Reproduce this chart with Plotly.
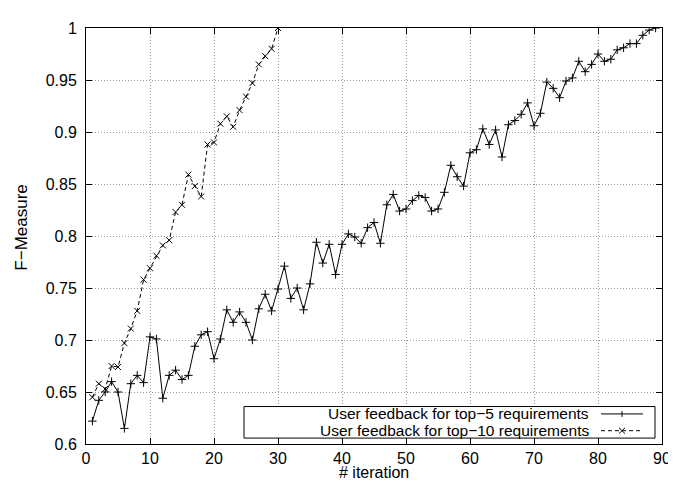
import plotly.graph_objects as go

# ---- data ----
iter_top5 = list(range(1, 90))
fm_top5 = [0.622, 0.642, 0.650, 0.660, 0.650, 0.615, 0.658, 0.666, 0.659, 0.703,
           0.701, 0.644, 0.666, 0.671, 0.662, 0.666, 0.694, 0.705, 0.708, 0.682,
           0.701, 0.729, 0.717, 0.727, 0.717, 0.700, 0.730, 0.744, 0.728, 0.749,
           0.771, 0.740, 0.750, 0.729, 0.754, 0.794, 0.774, 0.792, 0.763, 0.792,
           0.802, 0.799, 0.793, 0.808, 0.813, 0.793, 0.830, 0.840, 0.824, 0.826,
           0.834, 0.839, 0.837, 0.824, 0.826, 0.842, 0.868, 0.857, 0.848, 0.880,
           0.883, 0.903, 0.888, 0.902, 0.876, 0.907, 0.911, 0.917, 0.928, 0.906,
           0.918, 0.948, 0.942, 0.933, 0.949, 0.952, 0.968, 0.958, 0.965, 0.975,
           0.968, 0.970, 0.979, 0.981, 0.985, 0.985, 0.993, 0.998, 1.000]
iter_top10 = list(range(1, 31))
fm_top10 = [0.645, 0.658, 0.653, 0.675, 0.674, 0.697, 0.711, 0.728, 0.758, 0.769,
            0.781, 0.791, 0.796, 0.823, 0.830, 0.859, 0.848, 0.838, 0.888, 0.890,
            0.908, 0.915, 0.905, 0.921, 0.934, 0.947, 0.965, 0.973, 0.980, 1.000]
name_top5 = "User feedback for top\u22125 requirements"
name_top10 = "User feedback for top\u221210 requirements"
x_ticks = [0, 10, 20, 30, 40, 50, 60, 70, 80, 90]
y_ticks = [0.6, 0.65, 0.7, 0.75, 0.8, 0.85, 0.9, 0.95, 1.0]
y_tick_labels = ["0.6", "0.65", "0.7", "0.75", "0.8", "0.85", "0.9", "0.95", "1"]

FONT = "Liberation Sans, Arial, Helvetica, sans-serif"

fig = go.Figure()
fig.add_trace(go.Scatter(
    x=iter_top5, y=fm_top5, mode="lines+markers", name=name_top5,
    line=dict(color="black", width=1),
    marker=dict(symbol="cross-thin", size=6, line=dict(color="black", width=1)),
    showlegend=False))
fig.add_trace(go.Scatter(
    x=iter_top10, y=fm_top10, mode="lines+markers", name=name_top10,
    line=dict(color="black", width=1, dash="4px,3px"),
    marker=dict(symbol="x-thin", size=6, line=dict(color="black", width=1)),
    showlegend=False))

axis_common = dict(
    showline=True, linecolor="black", linewidth=1, mirror="allticks",
    ticks="inside", ticklen=6, tickcolor="black", tickwidth=1,
    showgrid=True, gridcolor="#999999", griddash="1px,2px", gridwidth=1,
    zeroline=False, tickfont=dict(family=FONT, size=16, color="black"),
)
fig.update_xaxes(range=[0, 90], tickvals=x_ticks, **axis_common)
fig.update_yaxes(range=[0.6, 1.0], tickvals=y_ticks, ticktext=y_tick_labels,
                 ticklabelstandoff=5, **axis_common)

# ---- custom legend (text left, sample right, like gnuplot) ----
W, H = 576.0, 422.0
def px(xp):
    return (xp - 78) / W
def py(yp):
    return (436 - yp) / H

shapes = [dict(type="rect", xref="paper", yref="paper",
               x0=px(236), x1=px(647), y0=py(430), y1=py(398),
               line=dict(color="black", width=1), fillcolor="white", layer="above")]
rows = [(405.5, name_top5, "solid", "plus"), (422.5, name_top10, "4px,3px", "x")]
annotations = []
for yc, label, dash, mk in rows:
    annotations.append(dict(xref="paper", yref="paper", x=px(583), y=py(yc),
                            text=label, showarrow=False, xanchor="right",
                            yanchor="middle",
                            font=dict(family=FONT, size=15.5, color="black")))
    shapes.append(dict(type="line", xref="paper", yref="paper",
                       x0=px(593), x1=px(635), y0=py(yc), y1=py(yc),
                       line=dict(color="black", width=1, dash=dash), layer="above"))
    cx = 614
    if mk == "plus":
        shapes.append(dict(type="line", xref="paper", yref="paper",
                           x0=px(cx), x1=px(cx), y0=py(yc - 3), y1=py(yc + 3),
                           line=dict(color="black", width=1), layer="above"))
    else:
        shapes.append(dict(type="line", xref="paper", yref="paper",
                           x0=px(cx - 3), x1=px(cx + 3), y0=py(yc - 3), y1=py(yc + 3),
                           line=dict(color="black", width=1), layer="above"))
        shapes.append(dict(type="line", xref="paper", yref="paper",
                           x0=px(cx - 3), x1=px(cx + 3), y0=py(yc + 3), y1=py(yc - 3),
                           line=dict(color="black", width=1), layer="above"))

# axis titles
annotations.append(dict(xref="paper", yref="paper", x=0.5, y=0, yshift=-28,
                        text="# iteration", showarrow=False, xanchor="center",
                        yanchor="middle", font=dict(family=FONT, size=16, color="black")))
annotations.append(dict(xref="paper", yref="paper", x=0, y=0.52, xshift=-64,
                        text="F\u2212Measure", showarrow=False, textangle=-90,
                        xanchor="center", yanchor="middle",
                        font=dict(family=FONT, size=17, color="black")))

fig.update_layout(
    width=676, height=481,
    margin=dict(l=78, r=22, t=14, b=45),
    paper_bgcolor="white", plot_bgcolor="white",
    shapes=shapes, annotations=annotations,
    font=dict(family=FONT, size=16, color="black"),
)
fig.write_html("out.html")
